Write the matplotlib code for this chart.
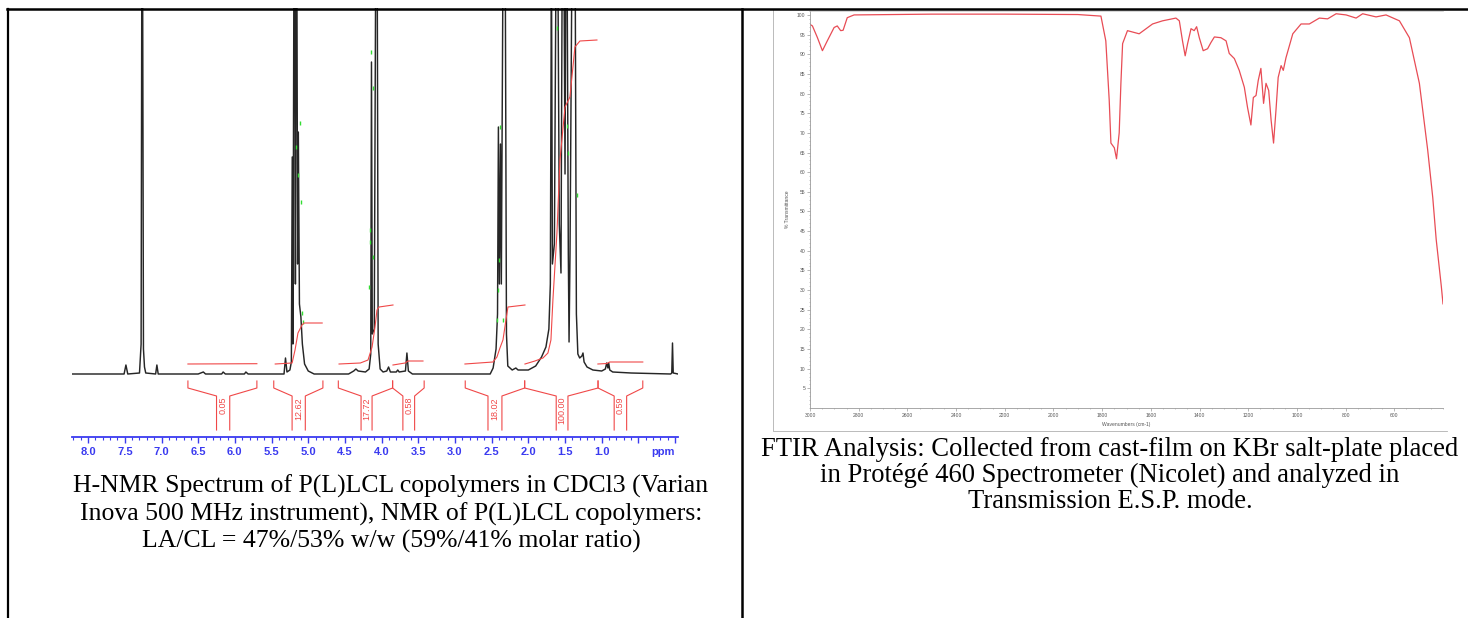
import numpy as np
import matplotlib
matplotlib.use("Agg")
import matplotlib.pyplot as plt
from matplotlib.ticker import MultipleLocator, FixedLocator

W, H = 1468, 618

# ---------------- H-NMR spectrum (ppm, height above baseline) ----------------
nmr_ppm = [8.23, 7.51, 7.485, 7.46, 7.30, 7.278, 7.268, 7.258, 7.246, 7.232, 7.215,
           7.08, 7.063, 7.045, 6.50, 6.43, 6.40, 6.18, 6.16, 6.13, 5.87, 5.85, 5.82,
           5.33, 5.31, 5.29, 5.25, 5.23, 5.218, 5.208, 5.195, 5.185, 5.175, 5.165,
           5.155, 5.145, 5.135, 5.12, 5.10, 5.08, 5.05, 5.00, 4.92,
           4.45, 4.38, 4.35, 4.32, 4.22, 4.17, 4.148, 4.138, 4.127, 4.10, 4.080,
           4.060, 4.047, 4.02, 3.98, 3.93, 3.905, 3.88, 3.80, 3.78, 3.76, 3.675,
           3.655, 3.635, 3.58,
           2.52, 2.48, 2.44, 2.42, 2.408, 2.395, 2.38, 2.368, 2.345, 2.315, 2.298,
           2.28, 2.22, 2.17, 2.14, 2.00, 1.90, 1.82, 1.76, 1.72, 1.70, 1.685, 1.672,
           1.645, 1.622, 1.598, 1.578, 1.555, 1.538, 1.515, 1.50, 1.488, 1.472,
           1.455, 1.445, 1.432, 1.405, 1.385, 1.362, 1.345, 1.325, 1.30, 1.27,
           1.255, 1.24, 1.20, 1.12, 1.00, 0.95, 0.932, 0.915, 0.905, 0.89, 0.85,
           0.60, 0.06, 0.045, 0.035, 0.025, -0.04]
nmr_int = [0, 0, 9, 0, 1, 30, 420, 420, 25, 7, 1,
           0, 9, 0, 0, 2, 0, 0, 2, 0, 0, 2, 0,
           0, 16, 2, 4, 12, 217, 30, 420, 420, 90, 420,
           420, 110, 242, 70, 57, 30, 10, 3, 0,
           0, 3, 5, 3, 2, 5, 20, 312, 40, 45, 420,
           420, 30, 5, 2, 3, 7, 2, 2, 4, 2, 3,
           21, 3, 0,
           0, 6, 25, 60, 247, 90, 230, 90, 420, 420, 40,
           8, 4, 6, 4, 4, 8, 17, 27, 45, 90, 420, 110,
           130, 420, 420, 150, 101, 420, 420, 200, 420, 420,
           120, 32, 120, 420, 420, 420, 60, 20, 16, 18,
           21, 12, 7, 4, 3, 5, 11, 6, 11, 4, 2,
           1, 0, 1, 31, 1, 0]

# green peak-pick marks
green_ppm = [5.112, 5.166, 5.139, 5.098, 5.085, 5.071, 4.144, 4.117, 4.158, 4.158,
             4.117, 4.172, 2.387, 2.40, 2.414, 2.428, 2.346, 1.61, 1.474, 1.46, 1.338]
green_int = [251, 227, 199, 172, 61, 52, 322, 286, 144, 132,
             117, 87, 247, 114, 84, 54, 54, 346, 248, 221, 179]

# integration regions
int_labels = ["0.05", "12.62", "17.72", "0.58", "18.02", "100.00", "0.59"]
int_left = [6.64, 5.47, 4.59, 3.85, 2.86, 2.05, 1.05]
int_right = [5.70, 4.80, 3.85, 3.42, 2.05, 1.05, 0.44]
int_stem_l = [6.25, 5.22, 4.28, 3.71, 2.55, 1.62, 0.83]
int_stem_r = [6.07, 5.04, 4.13, 3.55, 2.36, 1.46, 0.66]

int_curve_ppm = [
    [6.64, 5.70],
    [5.45, 5.22, 5.18, 5.14, 5.085, 5.057, 4.81],
    [4.58, 4.29, 4.185, 4.13, 4.09, 4.063, 4.035, 3.845],
    [3.845, 3.68, 3.64, 3.436],
    [2.864, 2.482, 2.428, 2.387, 2.346, 2.305, 2.278, 2.046],
    [2.046, 1.91, 1.801, 1.733, 1.692, 1.665, 1.61, 1.569, 1.50, 1.433, 1.365, 1.297, 1.065],
    [1.052, 0.93, 0.89, 0.44],
]
int_curve_val = [
    [10, 10.3],
    [10, 11, 24, 41, 49, 51, 51],
    [10, 11, 14, 27, 47, 64, 67, 69],
    [9, 11, 13, 13],
    [10, 12, 17, 26, 34, 54, 67, 69],
    [10, 13, 16, 21, 34, 74, 141, 214, 267, 277, 327, 333, 334],
    [10, 10.5, 12, 12],
]

# ---------------- FTIR spectrum ----------------
ftir_wn = [3000, 2990, 2970, 2949, 2929, 2901, 2888, 2874, 2864, 2847, 2819, 2500,
           2200, 1900, 1805, 1785, 1771, 1764, 1750, 1741, 1730, 1723, 1716, 1696,
           1648, 1593, 1552, 1497, 1483, 1470, 1459, 1449, 1435, 1422, 1412, 1401,
           1385, 1367, 1353, 1339, 1312, 1291, 1278, 1257, 1237, 1216, 1203, 1189,
           1179, 1168, 1159, 1148, 1137, 1127, 1116, 1106, 1096, 1086, 1077, 1065,
           1056, 1045, 1017, 983, 949, 908, 874, 839, 798, 757, 730, 675, 634, 579,
           538, 497, 463, 442, 428, 407, 400]
ftir_T = [97.6, 97.2, 94.3, 90.9, 93.4, 96.8, 97.2, 96.0, 96.1, 99.3, 100.0, 100.2,
          100.2, 100.1, 99.7, 93.4, 78.3, 67.4, 66.2, 63.4, 70.0, 82.6, 92.7, 96.0,
          95.2, 97.7, 98.5, 99.2, 98.5, 93.4, 89.6, 92.7, 96.5, 96.0, 97.0, 94.2,
          90.9, 91.4, 93.0, 94.4, 94.2, 93.4, 90.2, 88.9, 85.9, 81.6, 76.5, 72.0,
          79.0, 79.5, 83.3, 86.4, 77.5, 82.6, 80.8, 73.2, 67.4, 75.8, 84.1, 87.1,
          85.9, 89.1, 95.2, 97.7, 97.7, 99.2, 99.0, 100.3, 100.0, 99.2, 100.3, 99.5,
          100.0, 98.5, 94.2, 82.6, 65.7, 53.5, 42.9, 31.0, 26.5]
ftir_xticks = [3000, 2800, 2600, 2400, 2200, 2000, 1800, 1600, 1400, 1200, 1000, 800, 600]
ftir_yticks = list(range(5, 101, 5))

nmr_caption = ["H-NMR Spectrum of P(L)LCL copolymers in CDCl3 (Varian",
               "Inova 500 MHz instrument), NMR of P(L)LCL copolymers:",
               "LA/CL = 47%/53% w/w (59%/41% molar ratio)"]
ftir_caption = ["FTIR Analysis: Collected from cast-film on KBr salt-plate placed",
                "in Prot\u00e9g\u00e9 460 Spectrometer (Nicolet) and analyzed in",
                "Transmission E.S.P. mode."]


def box(x0, y0, x1, y1):
    # pixel box (top-left origin) -> figure fraction rect
    return [x0 / W, 1 - y1 / H, (x1 - x0) / W, (y1 - y0) / H]


fig = plt.figure(figsize=(W / 100, H / 100), dpi=100)
fig.patch.set_facecolor("white")

# ---- NMR panel ----
blue = "#3a3af0"
red = "#f04848"
ax = fig.add_axes(box(72, 8, 678, 437))
ax.set_xlim(8.22, -0.04)
ax.set_ylim(-63, 366)
ax.patch.set_alpha(0)
ax.plot(nmr_ppm, nmr_int, color="#262626", lw=1.05)
ax.plot(green_ppm, green_int, ls="none", marker="|", ms=3.5, mew=1.0, color="#33dd33")
for cp, cv in zip(int_curve_ppm, int_curve_val):
    ax.plot(cp, cv, color=red, lw=0.8)
for lab, l, r, sl, sr in zip(int_labels, int_left, int_right, int_stem_l, int_stem_r):
    ax.plot([l, l, sl, sl], [-7, -14, -22, -56], color=red, lw=0.8)
    ax.plot([r, r, sr, sr], [-7, -14, -22, -56], color=red, lw=0.8)
    ax.text((sl + sr) / 2, -23, lab, rotation=90, ha="center", va="top",
            color=red, fontsize=6.5, family="Liberation Sans")
for s in ["top", "left", "right"]:
    ax.spines[s].set_visible(False)
ax.spines["bottom"].set_color(blue)
ax.spines["bottom"].set_linewidth(1.3)
ax.set_yticks([])
ax.xaxis.set_major_locator(FixedLocator(np.arange(0, 8.01, 0.5)))
ax.xaxis.set_minor_locator(MultipleLocator(0.1))
ax.set_xticklabels(["%.1f" % v if v > 0.9 else "" for v in np.arange(0, 8.01, 0.5)])
ax.tick_params(axis="x", which="major", length=4, width=1, color=blue,
               labelsize=8, labelcolor=blue, pad=3)
ax.tick_params(axis="x", which="minor", length=2, width=0.8, color=blue)
plt.setp(ax.get_xticklabels(), fontweight="bold", family="Liberation Sans")

# ---- FTIR panel ----
gray = "#9a9a9a"
ax2 = fig.add_axes(box(810, 11, 1443, 408))
ax2.set_xlim(3000, 400)
ax2.set_ylim(0, 101)
ax2.plot(ftir_wn, ftir_T, color="#e84c55", lw=0.9)
ax2.spines["right"].set_visible(False)
for s in ["left", "bottom"]:
    ax2.spines[s].set_color(gray)
    ax2.spines[s].set_linewidth(0.6)
ax2.spines["top"].set_color("#c8c8c8")
ax2.spines["top"].set_linewidth(0.5)
ax2.set_xticks(ftir_xticks)
ax2.set_yticks(ftir_yticks)
ax2.xaxis.set_minor_locator(MultipleLocator(50))
ax2.yaxis.set_minor_locator(MultipleLocator(1))
ax2.tick_params(which="major", length=2, width=0.5, color=gray, labelsize=3.6,
                labelcolor="#555555", pad=1.5)
ax2.tick_params(which="minor", length=1, width=0.4, color=gray)
plt.setp(ax2.get_xticklabels() + ax2.get_yticklabels(), family="Liberation Sans")
ax2.set_xlabel("Wavenumbers (cm-1)", fontsize=3.6, color="#555555", family="Liberation Sans")
ax2.set_ylabel("% Transmittance", fontsize=3.6, color="#555555", family="Liberation Sans")
ax2.xaxis.set_label_coords(0.5, -0.035)
ax2.yaxis.set_label_coords(-0.032, 0.5)

# ---- table frame and captions (pixel coords) ----
ov = fig.add_axes([0, 0, 1, 1])
ov.set_xlim(0, W)
ov.set_ylim(H, 0)
ov.axis("off")
ov.plot([773, 773, 1447], [9, 431, 431], color="#b0b0b0", lw=0.6)
ov.plot([8, 8], [9, H + 5], color="black", lw=1.6)
ov.plot([741.5, 741.5], [9, H + 5], color="black", lw=1.8)
ov.plot([7, W + 5], [9, 9], color="black", lw=1.8)
ov.text(663, 452, "ppm", ha="center", va="center", color=blue, fontsize=8,
        fontweight="bold", family="Liberation Sans")

serif = "Liberation Serif"
for i, line in enumerate(nmr_caption):
    ov.text(391, 493 + i * 27.5, line, ha="center", va="baseline",
            fontsize=18.5, family=serif)
for i, line in enumerate(ftir_caption):
    ov.text(1110, 456 + i * 26, line, ha="center", va="baseline",
            fontsize=19.2, family=serif)

fig.savefig("out.png", dpi=100, facecolor="white")
